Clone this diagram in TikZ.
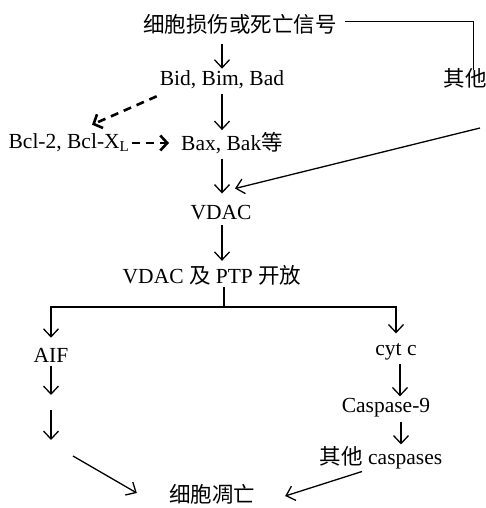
\documentclass[tikz,border=0pt]{standalone}
\usepackage{fontspec}
\setmainfont{Liberation Serif}
\newfontfamily\cjk{Noto Sans CJK SC}
\usetikzlibrary{arrows.meta,calc}

\tikzset{
  lbl/.style={inner sep=2pt,font=\fontsize{21.5}{25}\selectfont},
  arr/.style={line width=1.3pt,-{Straight Barb[length=8pt,width=15pt,line width=1.3pt]}},
  darr/.style={line width=2.6pt,dash pattern=on 8pt off 6pt,
    -{Straight Barb[length=7pt,width=15pt,line width=2.6pt]}},
}

\begin{document}
\begin{tikzpicture}[x=1pt,y=-1pt]
        \useasboundingbox (0,0) rectangle (486,508);
        % main column
        \node[lbl] (sig) at (240,24) {\cjk 细胞损伤或死亡信号};
        \node[lbl] (other) at (465,78) {\cjk 其他};
        \node[lbl] (bid) at (222,80) {Bid, Bim, Bad};
        \node[lbl] (bcl) at (69,143) {Bcl-2, Bcl-X\textsubscript{L}};
        \node[lbl] (bax) at (232,143) {Bax, Bak{\cjk 等}};
        \node[lbl] (vdac) at (221,213) {VDAC};
        \node[lbl] (ptp) at (212,275) {VDAC {\cjk 及} PTP {\cjk 开放}};
        % two branches
        \node[lbl] (aif) at (51,355) {AIF};
        \node[lbl] (cytc) at (396,352) {cyt c};
        \node[lbl] (casp9) at (386,408) {Caspase-9};
        \node[lbl] (caspo) at (381,458) {{\cjk 其他} caspases};
        \node[lbl] (apop) at (212,494) {\cjk 细胞凋亡};
        \coordinate (othtail) at (480,128);
        \coordinate (fork) at (224,307);
        \coordinate (aifgap) at (51,403);
        \coordinate (aiftail) at (73,456);

        \draw[line width=1pt] ([xshift=6pt,yshift=2pt]sig.east) -| ([xshift=8pt,yshift=-4pt]other.north);
        \draw[arr,shorten <=8pt] (sig.south -| bid) -- (bid);
        \draw[arr,shorten <=3pt] (bid) -- (bax.north -| bid);
        \draw[darr] ([xshift=-1pt,yshift=-5pt]bid.south west) -- ([xshift=23pt,yshift=7pt]bcl.north);
        \draw[darr,shorten >=10pt] (bcl.east) -- (bax.west);
        \draw[arr,shorten <=3pt,shorten >=10pt] (bax.south -| bid) -- (vdac.north -| bid);
        \draw[arr] (othtail) -- ([xshift=14pt,yshift=15pt]vdac.north);
        \draw[arr,shorten <=3pt,shorten >=2pt] (vdac.south -| bid) -- (ptp.north -| bid);
        \draw[line width=1.3pt] (ptp.south -| fork) -- (fork);
        \draw[arr,shorten >=8pt] (fork) -| (aif);
        \draw[arr,shorten >=8pt] (fork) -| (cytc);
        \draw[arr,shorten <=2pt] (aif) -- ([yshift=8pt]aifgap);
        \draw[arr] ([yshift=-7pt]aifgap) -- ([yshift=-37pt]aifgap);
        \draw[arr] (aiftail) -- ([xshift=-30pt,yshift=1pt]apop.west);
        \draw[arr,shorten <=1pt] (cytc.south -| {(400,0)}) -- (casp9.north -| {(400,0)});
        \draw[arr,shorten <=2pt] (casp9.south -| {(401,0)}) -- (caspo.north -| {(401,0)});
        \draw[arr] ([xshift=-19pt]caspo.south) -- ([xshift=28pt,yshift=-2pt]apop.east);
      \end{tikzpicture}
\end{document}
